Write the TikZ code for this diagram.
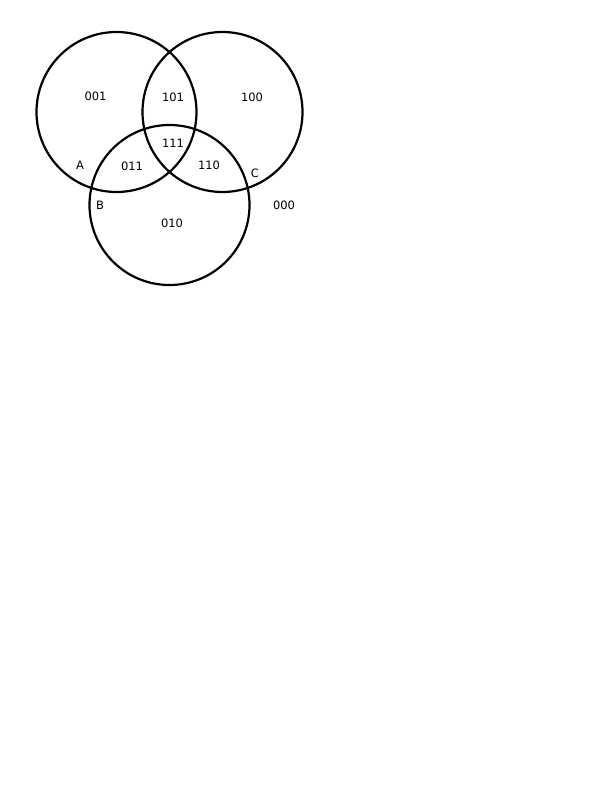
\documentclass[tikz,border=0pt]{standalone}
\usepackage{fontspec}
\setmainfont{DejaVu Sans}

\begin{document}
\begin{tikzpicture}[
    x=1pt, y=-1pt,
    set/.style={circle, draw, line width=2.2pt, minimum size=160pt, inner sep=0pt},
    code/.style={font=\fontsize{11.5}{13}\selectfont, inner sep=0pt}
]
\useasboundingbox (0,0) rectangle (612,792);

% Sets
\node[set] (setA) at (116.5, 112) {};
\node[set] (setC) at (222.5, 112) {};
\node[set] (setB) at (169.5, 205) {};

% Region codes
\node[code] (r001) at (95.5, 96) {001};
\node[code] (r101) at (173, 97) {101};
\node[code] (r100) at (252, 97) {100};
\node[code] (r111) at (173, 143) {111};
\node[code] (r011) at (132, 166) {011};
\node[code] (r110) at (209, 165) {110};
\node[code] (r010) at (172, 223) {010};
\node[code] (r000) at (284, 205) {000};

% Set names
\node[code] (nameA) at (80, 165) {A};
\node[code] (nameB) at (100, 205) {B};
\node[code] (nameC) at (255, 173) {C};
\end{tikzpicture}
\end{document}
